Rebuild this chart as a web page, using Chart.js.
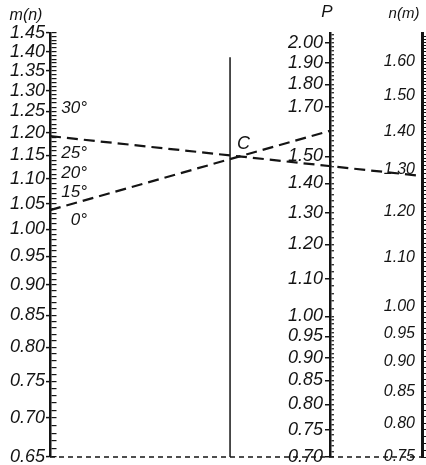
<!DOCTYPE html>
<html>
<head>
<meta charset="utf-8">
<script src="https://cdn.jsdelivr.net/npm/chart.js"></script>
<style>
  html, body { margin: 0; padding: 0; background: #fff; }
  #wrap { width: 426px; height: 465px; }
</style>
</head>
<body>
<div id="wrap"><canvas id="nomogram"></canvas></div>
<script>
// labelled values on the three scales
const mLabels = [0.65, 0.70, 0.75, 0.80, 0.85, 0.90, 0.95, 1.00, 1.05, 1.10, 1.15, 1.20, 1.25, 1.30, 1.35, 1.40, 1.45];
const pLabels = [0.70, 0.75, 0.80, 0.85, 0.90, 0.95, 1.00, 1.10, 1.20, 1.30, 1.40, 1.50, 1.70, 1.80, 1.90, 2.00];
const nLabels = [0.75, 0.80, 0.85, 0.90, 0.95, 1.00, 1.10, 1.20, 1.30, 1.40, 1.50, 1.60];

// angle marks along the m(n) scale
const angleNames = ['30°', '25°', '20°', '15°', '0°'];
const angleValues = [1.258, 1.155, 1.113, 1.073, 1.018];

// the two key lines, both crossing at C
const keyStartM = [1.037, 1.193];
const keyEndAxis = ['p', 'n'];
const keyEndValue = [1.60, 1.285];

// C scale (middle line), m value where it stops
const cLineX = 0.643;
const cLineTop = 1.385;

const ink = '#141414';

// tick marks every 0.01 (or given step)
function tickRange(from, to, step) {
  const out = [];
  const s = Math.round(step * 100);
  for (let i = Math.round(from * 100); i <= Math.round(to * 100); i += s) out.push(i / 100);
  return out;
}
const mTicks = tickRange(0.65, 1.45, 0.01);
const pTicks = tickRange(0.70, 0.99, 0.01).concat(tickRange(1.00, 2.04, 0.02));
const nTicks = tickRange(0.75, 1.68, 0.01);

function labelFor(list) {
  return (value) => {
    const v = Math.round(value * 100) / 100;
    return list.some(l => Math.abs(l - v) < 1e-6) ? v.toFixed(2) : '';
  };
}
const isMajor = (c) => c.tick && c.tick.label ? ink : 'rgba(0,0,0,0)';

// lines, titles and marks drawn on top, placed with the scales
const nomogramMarks = {
  id: 'nomogramMarks',
  afterDatasetsDraw(chart) {
    const {ctx, scales, chartArea} = chart;
    const m = scales.m;
    ctx.save();
    ctx.strokeStyle = ink;
    ctx.fillStyle = ink;

    // dashed base line joining the scale ends
    const yBase = m.getPixelForValue(mLabels[0]);
    ctx.lineWidth = 1.5;
    ctx.setLineDash([5, 4]);
    ctx.beginPath();
    ctx.moveTo(m.right, yBase);
    ctx.lineTo(scales.n.left, yBase);
    ctx.stroke();

    // key lines
    ctx.lineWidth = 2.2;
    ctx.setLineDash([11, 6]);
    const ends = [];
    for (let i = 0; i < keyStartM.length; i++) {
      const end = scales[keyEndAxis[i]];
      const x0 = m.right, y0 = m.getPixelForValue(keyStartM[i]);
      const x1 = end.left, y1 = end.getPixelForValue(keyEndValue[i]);
      ends.push([x0, y0, x1, y1]);
      ctx.beginPath();
      ctx.moveTo(x0, y0);
      ctx.lineTo(x1, y1);
      ctx.stroke();
    }
    ctx.setLineDash([]);

    // C label at the crossing with the middle line
    const cx = scales.x.getPixelForValue(cLineX);
    const [x0, y0, x1, y1] = ends[0];
    const cy = y0 + (y1 - y0) * (cx - x0) / (x1 - x0);
    ctx.font = 'italic 18px "Liberation Sans"';
    ctx.textAlign = 'left';
    ctx.textBaseline = 'bottom';
    ctx.fillText('C', cx + 7, cy - 6);

    // angle marks
    ctx.font = 'italic 17px "Liberation Sans"';
    ctx.textAlign = 'right';
    ctx.textBaseline = 'middle';
    angleNames.forEach((name, i) => {
      ctx.fillText(name, m.right + 37, m.getPixelForValue(angleValues[i]));
    });

    // scale names
    ctx.textAlign = 'center';
    ctx.font = 'italic 16px "Liberation Sans"';
    ctx.fillText('m(n)', m.right - 24, chartArea.top - 17);
    ctx.font = 'italic 17px "Liberation Sans"';
    ctx.fillText('P', scales.p.left - 3, chartArea.top - 21);
    ctx.font = 'italic 15px "Liberation Sans"';
    ctx.fillText('n(m)', scales.n.left - 18, chartArea.top - 19);
    ctx.restore();
  }
};

const canvasContext = document.getElementById('nomogram').getContext('2d');

new Chart(canvasContext, {
  type: 'scatter',
  plugins: [nomogramMarks],
  data: {
    datasets: [
      {
        label: 'C',
        yAxisID: 'm',
        showLine: true,
        data: [{x: cLineX, y: mLabels[0]}, {x: cLineX, y: cLineTop}],
        borderColor: ink,
        borderWidth: 1.5,
        pointRadius: 0,
      },
    ],
  },
  options: {
    responsive: true,
    maintainAspectRatio: false,
    animation: false,
    layout: {padding: {top: 33, bottom: 8, left: 0, right: 0}},
    plugins: {legend: {display: false}, tooltip: {enabled: false}},
    scales: {
      x: {type: 'linear', min: 0, max: 1, display: false},
      m: {
        axis: 'y',
        type: 'logarithmic',
        position: 'left',
        min: 0.65,
        max: 1.45,
        afterBuildTicks: (s) => { s.ticks = mTicks.map(v => ({value: v})); },
        afterFit: (s) => { s.width = 50; s.paddingTop = 0; s.paddingBottom = 0; },
        border: {color: ink, width: 2.5, dash: [5, 3000]},
        grid: {drawOnChartArea: true, color: ink, lineWidth: 1.2, tickLength: 4, tickColor: isMajor, tickWidth: 1.5},
        ticks: {
          autoSkip: false, padding: 1, color: ink,
          font: {family: 'Liberation Sans', size: 18, style: 'italic'},
          callback: labelFor(mLabels),
        },
      },
      p: {
        axis: 'y',
        type: 'logarithmic',
        position: 'right',
        weight: 0,
        min: 0.70,
        max: 2.05,
        afterBuildTicks: (s) => { s.ticks = pTicks.map(v => ({value: v})); },
        afterFit: (s) => { s.width = 92; s.paddingTop = 0; s.paddingBottom = 0; },
        border: {color: ink, width: 2.5, dash: [0, 275, 5, 3000]},
        grid: {drawOnChartArea: true, color: isMajor, lineWidth: 1.5, tickLength: 4, tickColor: ink, tickWidth: 1.2},
        ticks: {
          autoSkip: false, mirror: true, padding: -7, color: ink,
          font: {family: 'Liberation Sans', size: 18, style: 'italic'},
          callback: labelFor(pLabels),
        },
      },
      n: {
        axis: 'y',
        type: 'logarithmic',
        position: 'right',
        weight: 1,
        min: 0.75,
        max: 1.69,
        afterBuildTicks: (s) => { s.ticks = nTicks.map(v => ({value: v})); },
        afterFit: (s) => { s.width = 4; s.paddingTop = 0; s.paddingBottom = 0; },
        border: {color: ink, width: 3},
        grid: {drawOnChartArea: false, tickLength: 4, tickColor: ink, tickWidth: 1.2},
        ticks: {
          autoSkip: false, mirror: true, padding: -7, color: ink,
          font: {family: 'Liberation Sans', size: 16, style: 'italic'},
          callback: labelFor(nLabels),
        },
      },
    },
  },
});
</script>
</body>
</html>
